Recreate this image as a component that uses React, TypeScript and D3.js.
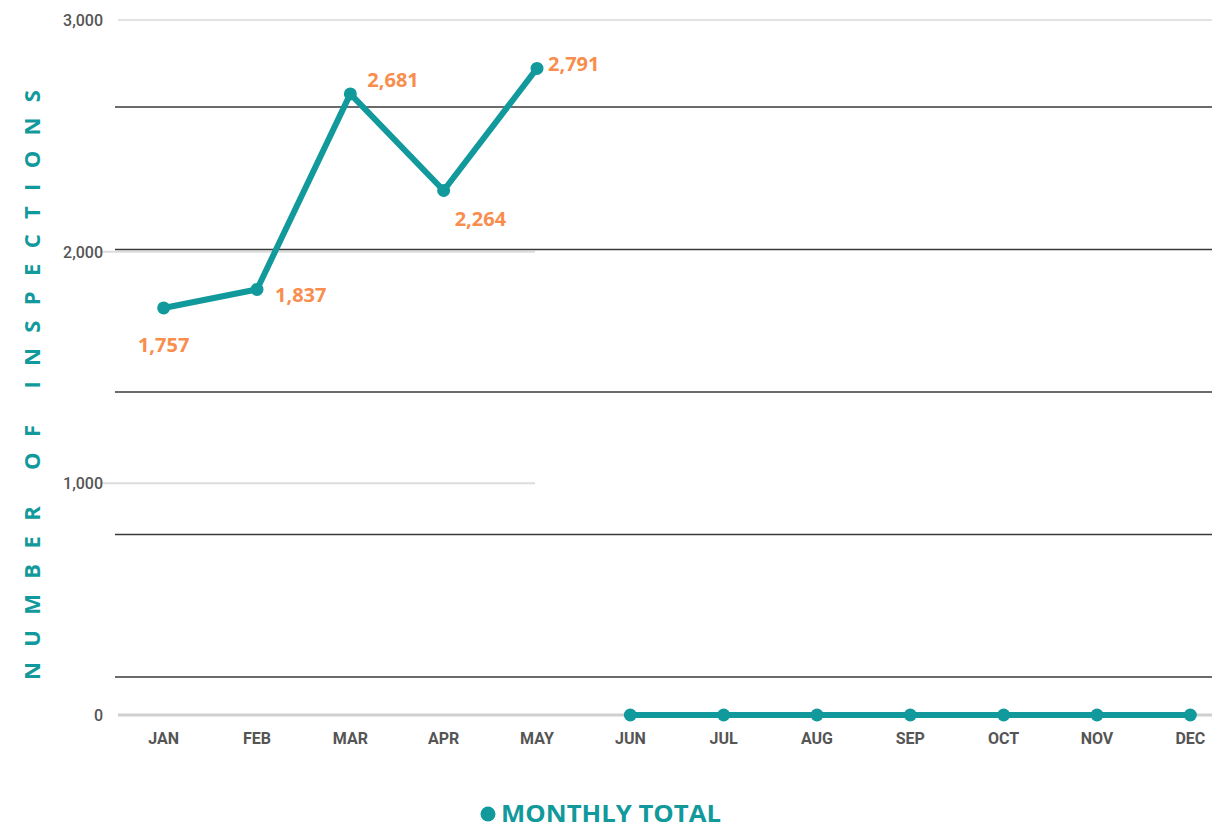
import React from "react";
import * as d3 from "d3";

const months = ["JAN", "FEB", "MAR", "APR", "MAY", "JUN", "JUL", "AUG", "SEP", "OCT", "NOV", "DEC"];
const monthlyTotal = [1757, 1837, 2681, 2264, 2791, 0, 0, 0, 0, 0, 0, 0];
// the line is broken between MAY and JUN
const segments = [[0, 4], [5, 11]];
const labelledMonths = ["JAN", "FEB", "MAR", "APR", "MAY"];
const yTicks = [0, 1000, 2000, 3000];
const overlayRules = [0, 1, 2, 3, 4];

const W = 1212;
const H = 828;
const teal = "#11999b";
const orange = "#f88d4d";

// where each data label sits relative to its point
const labelPos: Record<string, { dx: number; dy: number; anchor: string }> = {
  JAN: { dx: 0, dy: 44, anchor: "middle" },
  FEB: { dx: 18, dy: 13, anchor: "start" },
  MAR: { dx: 17, dy: -7, anchor: "start" },
  APR: { dx: 11, dy: 35, anchor: "start" },
  MAY: { dx: 11, dy: 3, anchor: "start" },
};

const App = () => {
  const x = d3.scalePoint<string>().domain(months).range([117, 1237]).padding(0.5);
  const y = d3.scaleLinear().domain([0, 3000]).range([715, 20]);
  const rule = d3.scaleLinear().domain([0, 4]).range([107, 677]);
  const fmt = d3.format(",");

  const segPath = (a: number, b: number) =>
    d3
      .line<number>()
      .x((d) => x(months[d]) as number)
      .y((d) => y(monthlyTotal[d]))(d3.range(a, b + 1)) as string;

  return (
    <svg width={W} height={H} style={{ position: "absolute", left: 0, top: 0, background: "#fff" }}>
      {/* gridlines */}
      <line x1={118} x2={W} y1={y(3000)} y2={y(3000)} stroke="#e2e2e2" strokeWidth={2} />
      {[1000, 2000].map((t) => (
        <line key={t} x1={102} x2={535} y1={y(t)} y2={y(t)} stroke="#dcdcdc" strokeWidth={2} />
      ))}
      <line x1={118} x2={W} y1={y(0)} y2={y(0)} stroke="#cfcfcf" strokeWidth={3} />
      {overlayRules.map((r) => (
        <line key={r} x1={115} x2={W} y1={rule(r)} y2={rule(r)} stroke="#3a3a3a" strokeWidth={1.5} />
      ))}

      {/* y tick labels */}
      {yTicks.map((t) => (
        <text
          key={t}
          x={103}
          y={y(t) + 6}
          textAnchor="end"
          fontFamily="Roboto, sans-serif"
          fontWeight={500}
          fontSize={16}
          fill="#555"
        >
          {fmt(t)}
        </text>
      ))}

      {/* x tick labels */}
      {months.map((m) => (
        <text
          key={m}
          x={x(m)}
          y={744}
          textAnchor="middle"
          fontFamily="Roboto, sans-serif"
          fontWeight="bold"
          fontSize={16}
          fill="#555"
        >
          {m}
        </text>
      ))}

      {/* y axis title */}
      <text
        transform={`translate(40,385) rotate(-90)`}
        x={-295}
        textAnchor="start"
        fontFamily="'Open Sans', sans-serif"
        fontWeight="bold"
        fontSize={22}
        textLength={590}
        lengthAdjust="spacing"
        fill={teal}
      >
        NUMBER OF INSPECTIONS
      </text>

      {/* series */}
      {segments.map(([a, b], i) => (
        <path key={i} d={segPath(a, b)} fill="none" stroke={teal} strokeWidth={6} strokeLinejoin="round" />
      ))}
      {months.map((m, i) => (
        <circle key={m} cx={x(m)} cy={y(monthlyTotal[i])} r={6.5} fill={teal} />
      ))}

      {/* data labels */}
      {labelledMonths.map((m) => {
        const i = months.indexOf(m);
        const p = labelPos[m];
        return (
          <text
            key={m}
            x={(x(m) as number) + p.dx}
            y={y(monthlyTotal[i]) + p.dy}
            textAnchor={p.anchor}
            fontFamily="'Open Sans', sans-serif"
            fontWeight="bold"
            fontSize={20}
            fill={orange}
          >
            {fmt(monthlyTotal[i])}
          </text>
        );
      })}

      {/* legend */}
      <circle cx={488} cy={814} r={7.5} fill={teal} />
      <text
        x={501}
        y={822}
        fontFamily="'Open Sans', sans-serif"
        fontWeight="bold"
        fontSize={24}
        textLength={220}
        lengthAdjust="spacingAndGlyphs"
        fill={teal}
      >
        MONTHLY TOTAL
      </text>
    </svg>
  );
};

export default App;
